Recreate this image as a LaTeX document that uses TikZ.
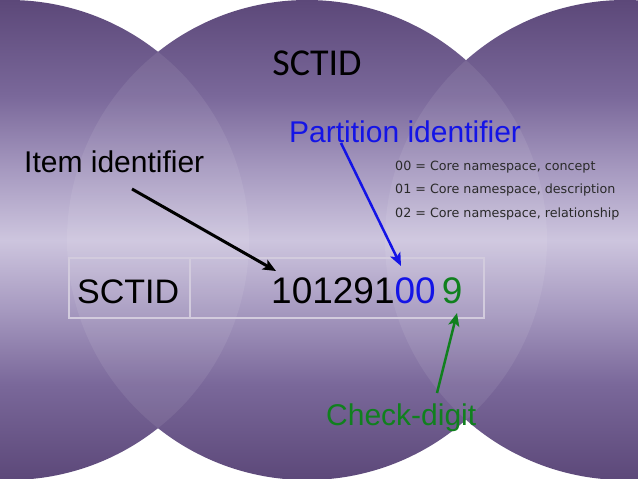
\documentclass[tikz,border=0pt]{standalone}
\usepackage{fontspec}
\setmainfont{Liberation Sans}
\newfontfamily\titlefont{Carlito}
\newfontfamily\listfont{DejaVu Sans}
\usetikzlibrary{arrows.meta}
\definecolor{cA}{HTML}{5C4879}
\definecolor{cB}{HTML}{7A689A}
\definecolor{cC}{HTML}{A598BF}
\definecolor{cD}{HTML}{CDC5DE}
\definecolor{pblue}{HTML}{1414E6}
\definecolor{cgreen}{HTML}{10801E}
\definecolor{cellline}{HTML}{D2CBDD}
\definecolor{listgray}{HTML}{2A2A2A}
\pgfdeclareverticalshading{bgshade}{100bp}{color(0bp)=(cA); color(25bp)=(cA); color(35bp)=(cB); color(42.5bp)=(cC); color(50bp)=(cD); color(57.5bp)=(cC); color(65bp)=(cB); color(75bp)=(cA); color(100bp)=(cA)}
\begin{document}
\begin{tikzpicture}[x=1pt,y=-1pt,
  lbl/.style={anchor=base west, inner sep=0pt},
  bigtext/.style={font=\fontsize{30}{30}\selectfont},
  listtext/.style={lbl, font=\listfont\fontsize{12.7}{12.7}\selectfont, text=listgray},
  cellbox/.style={draw=cellline, line width=1.3pt, inner sep=0pt, minimum height=60pt},
  arr/.style={-{Stealth[length=13pt,width=11pt,inset=3pt]}}]
\fill[white] (0,0) rectangle (638,479);
\useasboundingbox (0,0) rectangle (638,479);
% circles
\begin{scope}
  \clip (9,240) circle[radius=240] (307,240) circle[radius=240] (625,240) circle[radius=240];
  \shade[shading=bgshade] (0,0) rectangle (638,480);
\end{scope}
\begin{scope}
  \clip (9,240) circle[radius=240];
  \fill[white, opacity=0.08] (307,240) circle[radius=240];
\end{scope}
\begin{scope}
  \clip (625,240) circle[radius=240];
  \fill[white, opacity=0.08] (307,240) circle[radius=240];
\end{scope}
% title
\node[anchor=base, inner sep=0pt, font=\titlefont\fontsize{38}{38}\selectfont] (title) at (317,75) {SCTID};
% table
\node[cellbox, minimum width=121pt] (cell1) at (129.5,288) {};
\node[cellbox, minimum width=294pt] (cell2) at (337,288) {};
\node[lbl, font=\fontsize{34}{34}\selectfont] (tsct) at (77,303) {SCTID};
\node[lbl, font=\fontsize{37}{37}\selectfont] (num) at (271,303) {101291\textcolor{pblue}{00}\hspace{6pt}\textcolor{cgreen}{9}};
% labels
\node[lbl, bigtext] (item) at (24,172) {Item identifier};
\node[lbl, bigtext, text=pblue] (part) at (289,142) {Partition identifier};
\node[lbl, bigtext, text=cgreen] (check) at (326,425) {Check-digit};
\node[listtext] (l0) at (395,170) {00 = Core namespace, concept};
\node[listtext] (l1) at (395,193) {01 = Core namespace, description};
\node[listtext] (l2) at (395,217) {02 = Core namespace, relationship};
% arrows
\coordinate (iA) at (132,189);
\coordinate (iB) at (276,271);
\coordinate (pA) at (341,143);
\coordinate (pB) at (401,266);
\coordinate (gA) at (437,393);
\coordinate (gB) at (457,313);
\draw[arr, line width=3pt, black] (iA) -- (iB);
\draw[arr, line width=2.5pt, pblue] (pA) -- (pB);
\draw[arr, line width=2.5pt, cgreen] (gA) -- (gB);
\end{tikzpicture}
\end{document}
